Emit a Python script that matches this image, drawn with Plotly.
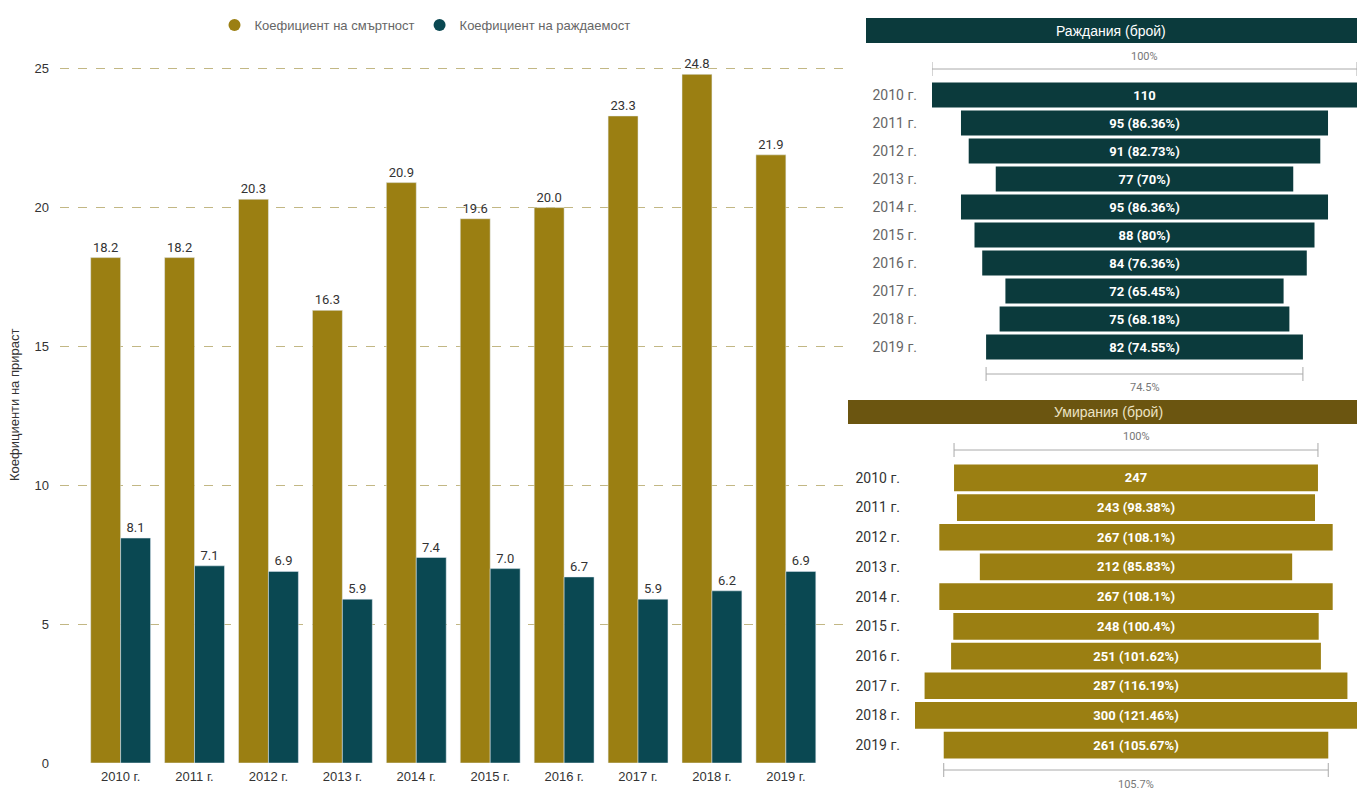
import plotly.graph_objects as go

W, H = 1357, 790

years = ["2010 г.", "2011 г.", "2012 г.", "2013 г.", "2014 г.", "2015 г.",
         "2016 г.", "2017 г.", "2018 г.", "2019 г."]
death_rate = [18.2, 18.2, 20.3, 16.3, 20.9, 19.6, 20.0, 23.3, 24.8, 21.9]
birth_rate = [8.1, 7.1, 6.9, 5.9, 7.4, 7.0, 6.7, 5.9, 6.2, 6.9]
births = [110, 95, 91, 77, 95, 88, 84, 72, 75, 82]
deaths = [247, 243, 267, 212, 267, 248, 251, 287, 300, 261]

GOLD = "#9b7f12"
TEAL = "#0a4852"
DARK_TEAL = "#0b3a3c"
BROWN = "#6b5510"
NARROW = "Roboto, sans-serif"
SANS = "Liberation Sans, Arial, sans-serif"


def px_x(p):
    return p / W


def px_y(p):
    return 1 - p / H


def funnel_text(vals):
    out = []
    base = vals[0]
    for i, v in enumerate(vals):
        if i == 0:
            out.append(f"{v}")
        else:
            s = f"{v / base * 100:.2f}".rstrip("0").rstrip(".")
            out.append(f"{v} ({s}%)")
    return out


fig = go.Figure()

fig.add_trace(go.Bar(
    x=years, y=death_rate, name="Коефициент на смъртност",
    marker_color=GOLD, text=[f"{v:.1f}" for v in death_rate],
    textposition="outside", cliponaxis=False, showlegend=False,
    textfont=dict(family=NARROW, size=13, color="#333"),
    xaxis="x", yaxis="y"))
fig.add_trace(go.Bar(
    x=years, y=birth_rate, name="Коефициент на раждаемост",
    marker_color=TEAL, text=[f"{v:.1f}" for v in birth_rate],
    textposition="outside", cliponaxis=False, showlegend=False,
    textfont=dict(family=NARROW, size=13, color="#333"),
    xaxis="x", yaxis="y"))

for nm, col in (("Коефициент на смъртност", GOLD),
                ("Коефициент на раждаемост", TEAL)):
    fig.add_trace(go.Scatter(x=[None], y=[None], mode="markers", name=nm,
                             marker=dict(color=col, size=12, symbol="circle"),
                             xaxis="x", yaxis="y", showlegend=True))

fig.add_trace(go.Funnel(
    y=years, x=births, text=funnel_text(births), textinfo="text",
    textposition="inside", insidetextanchor="middle",
    textfont=dict(family=NARROW, size=13, color="white", weight="bold"),
    marker=dict(color=DARK_TEAL), connector=dict(visible=False),
    showlegend=False, xaxis="x2", yaxis="y2", hoverinfo="x+y"))
fig.add_trace(go.Funnel(
    y=years, x=deaths, text=funnel_text(deaths), textinfo="text",
    textposition="inside", insidetextanchor="middle",
    textfont=dict(family=NARROW, size=13, color="white", weight="bold"),
    marker=dict(color=GOLD), connector=dict(visible=False),
    showlegend=False, xaxis="x3", yaxis="y3", hoverinfo="x+y"))

y0_px, top_px = 763, 41
yr_top = 26
fig.update_layout(
    width=W, height=H, autosize=False, margin=dict(l=0, r=0, t=0, b=0),
    paper_bgcolor="white", plot_bgcolor="white",
    barmode="group", bargap=0.19, bargroupgap=0, funnelgap=0.1,
    font=dict(family=SANS, size=13, color="#444"),
    legend=dict(orientation="h", x=px_x(425), xanchor="center", y=px_y(25),
                yanchor="middle", font=dict(size=13, color="#666"),
                itemwidth=30, traceorder="normal", tracegroupgap=0),
    xaxis=dict(domain=[px_x(60), px_x(845)], range=[-0.82, 9.8],
               type="category", showgrid=False, showline=False, ticks="",
               automargin=False, ticklabelstandoff=4,
               tickfont=dict(size=13, color="#333"), anchor="y"),
    yaxis=dict(domain=[px_y(y0_px), px_y(top_px)], range=[0, yr_top], dtick=5,
               showgrid=True, gridcolor="#c2b784", griddash="dash", gridwidth=1,
               zeroline=False, showline=False, ticks="", automargin=False,
               ticklabelstandoff=10,
               tickfont=dict(size=13, color="#333"), anchor="x"),
    xaxis2=dict(domain=[px_x(932), 1], range=[-55, 55], visible=False,
                automargin=False, anchor="y2"),
    yaxis2=dict(domain=[px_y(361), px_y(81)], autorange="reversed",
                type="category", showgrid=False, showline=False, ticks="",
                ticklabelstandoff=14, automargin=False,
                tickfont=dict(family=NARROW, size=14, color="#666"),
                anchor="x2"),
    xaxis3=dict(domain=[px_x(915), 1], range=[-150, 150], visible=False,
                automargin=False, anchor="y3"),
    yaxis3=dict(domain=[px_y(760), px_y(463)], autorange="reversed",
                type="category", showgrid=False, showline=False, ticks="",
                ticklabelstandoff=14, automargin=False,
                tickfont=dict(family=NARROW, size=14, color="#333"),
                anchor="x3"),
)

shapes = []
annotations = []

annotations.append(dict(x=px_x(15), y=px_y(405), xref="paper", yref="paper",
                        xanchor="center", yanchor="middle",
                        text="Коефициенти на прираст", textangle=-90,
                        showarrow=False, font=dict(size=13, color="#333")))

shapes.append(dict(type="rect", xref="paper", yref="paper", x0=px_x(866), x1=1,
                   y0=px_y(43), y1=px_y(18), fillcolor=DARK_TEAL, line_width=0,
                   layer="below"))
annotations.append(dict(x=px_x(1111), y=px_y(31), xref="paper", yref="paper",
                        xanchor="center", yanchor="middle",
                        text="Раждания (брой)", showarrow=False,
                        font=dict(size=14, color="white")))
shapes.append(dict(type="rect", xref="paper", yref="paper", x0=px_x(848), x1=1,
                   y0=px_y(424), y1=px_y(400), fillcolor=BROWN, line_width=0,
                   layer="below"))
annotations.append(dict(x=px_x(1108), y=px_y(412), xref="paper", yref="paper",
                        xanchor="center", yanchor="middle",
                        text="Умирания (брой)", showarrow=False,
                        font=dict(size=14, color="#ece3c4")))


def range_line(xref, half, y_line, y_text, label):
    shapes.append(dict(type="line", xref=xref, yref="paper", x0=-half, x1=half,
                       y0=px_y(y_line), y1=px_y(y_line),
                       line=dict(color="#aaa", width=1)))
    for xx in (-half, half):
        shapes.append(dict(type="line", xref=xref, yref="paper", x0=xx, x1=xx,
                           y0=px_y(y_line - 7), y1=px_y(y_line + 7),
                           line=dict(color="#aaa", width=1)))
    annotations.append(dict(x=0, y=px_y(y_text), xref=xref, yref="paper",
                            xanchor="center", yanchor="middle",
                            text=label, showarrow=False,
                            font=dict(family=NARROW, size=11, color="#777")))


range_line("x2", births[0] / 2, 69, 57, "100%")
range_line("x2", births[-1] / 2, 374, 388,
           f"{births[-1] / births[0] * 100:.1f}%")
range_line("x3", deaths[0] / 2, 450, 437, "100%")
range_line("x3", deaths[-1] / 2, 770, 784,
           f"{deaths[-1] / deaths[0] * 100:.1f}%")

fig.update_layout(shapes=shapes, annotations=annotations)

post = """
document.body.style.margin='0'; document.body.style.padding='0';
document.body.style.overflow='hidden';
"""

fig.write_html("out.html", config={"displayModeBar": False, "responsive": False},
               post_script=post)
